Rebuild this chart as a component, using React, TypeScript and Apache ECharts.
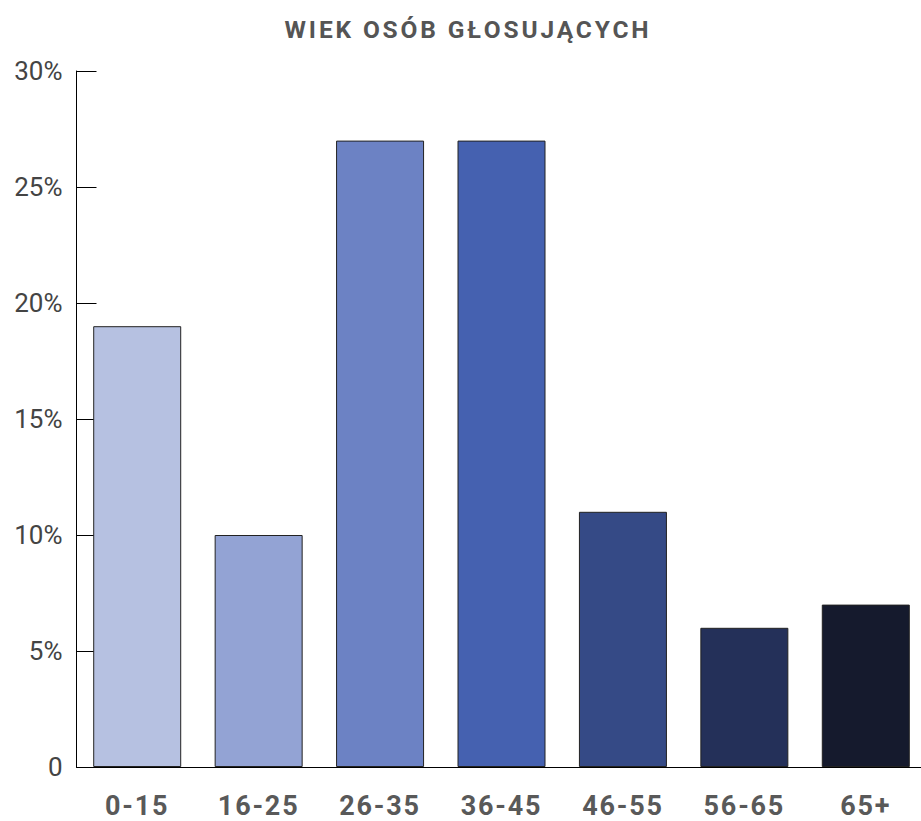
import React, { useEffect, useRef } from "react";
import * as echarts from "echarts";

const title = "WIEK OSÓB GŁOSUJĄCYCH";
const categories = ["0-15", "16-25", "26-35", "36-45", "46-55", "56-65", "65+"];
const values = [19, 10, 27, 27, 11, 6, 7];
const barColors = ["#b6c1e1", "#93a3d4", "#6c82c4", "#4561b0", "#354a86", "#243059", "#151a2d"];
const yTicks = [0, 5, 10, 15, 20, 25, 30];

export default function App() {
  const ref = useRef<HTMLDivElement>(null);
  useEffect(() => {
    if (!ref.current) return;
    const chart = echarts.init(ref.current, undefined, { renderer: "svg" });
    chart.setOption({
      animation: false,
      title: {
        text: title,
        left: 463,
        top: 12,
        textAlign: "center",
        textStyle: { fontFamily: "Roboto", fontWeight: "bold", fontSize: 24.5, color: "#555555" },
      },
      grid: { left: 76.5, top: 71, width: 850, bottom: 54, containLabel: false },
      xAxis: {
        type: "category",
        data: categories,
        axisLine: { show: true, lineStyle: { color: "#000", width: 1 } },
        axisTick: { show: false },
        axisLabel: {
          margin: 28,
          fontFamily: "Roboto",
          fontWeight: "bold",
          fontSize: 27,
          lineHeight: 22,
          color: "#595959",
        },
      },
      yAxis: {
        type: "value",
        min: yTicks[0],
        max: yTicks[yTicks.length - 1],
        interval: 5,
        splitLine: { show: false },
        axisLine: { show: true, lineStyle: { color: "#000", width: 1 } },
        axisTick: { show: true, inside: true, length: 20, lineStyle: { color: "#000", width: 1 } },
        axisLabel: {
          margin: 14,
          fontFamily: "Roboto",
          fontSize: 26,
          color: "#444444",
          padding: [10, 0, 0, 0],
          formatter: (v: number) => (v === 0 ? "0" : v + "%"),
        },
      },
      series: [
        {
          type: "bar",
          barWidth: 88,
          data: values.map((v, i) => ({
            value: v,
            itemStyle: { color: barColors[i], borderColor: "#222", borderWidth: 1 },
          })),
        },
      ],
    });
    const texts = ref.current.querySelectorAll("text");
    texts.forEach((t) => {
      const s = t.textContent || "";
      if (s === title) t.setAttribute("letter-spacing", "2.85");
      else if (categories.indexOf(s) >= 0) t.setAttribute("letter-spacing", "1.8");
    });
    return () => chart.dispose();
  }, []);
  return (
    <div style={{ position: "fixed", left: 0, top: 0, width: 921, height: 821, overflow: "hidden", background: "#fff" }}>
      <div ref={ref} style={{ width: 930, height: 821 }} />
    </div>
  );
}
